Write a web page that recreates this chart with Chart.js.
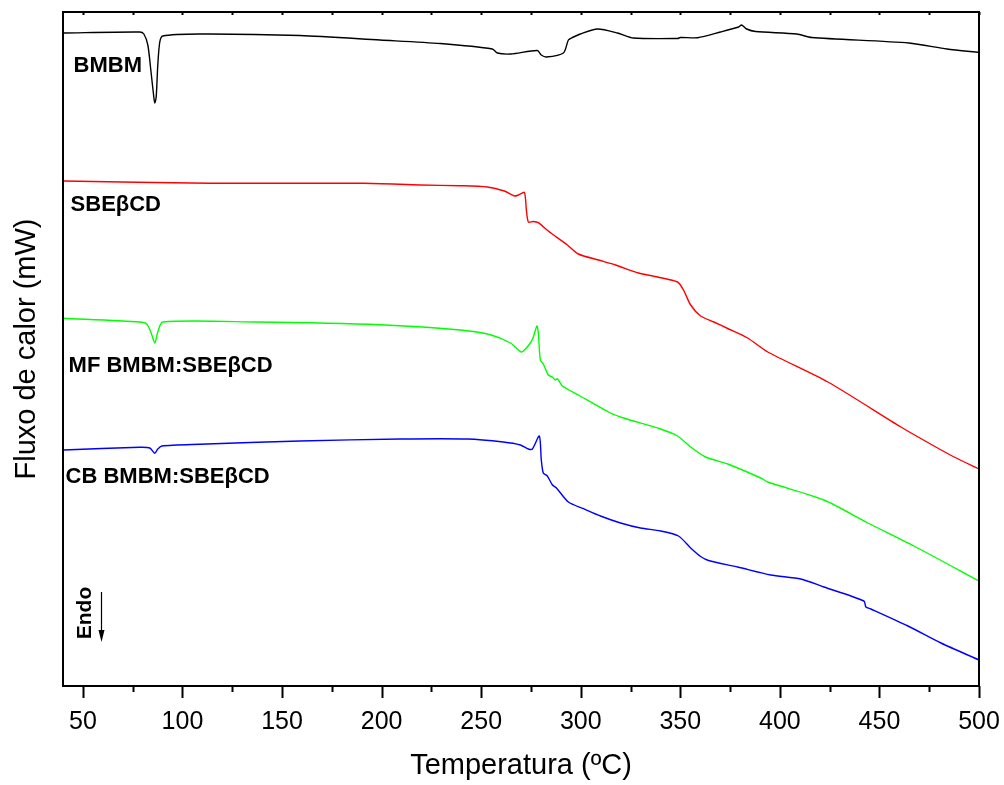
<!DOCTYPE html>
<html>
<head>
<meta charset="utf-8">
<script src="https://cdn.jsdelivr.net/npm/chart.js@4/dist/chart.umd.min.js"></script>
<style>
  html, body { margin: 0; padding: 0; background: #fff; }
  #wrap { width: 1004px; height: 785px; }
</style>
</head>
<body>
<div id="wrap"><canvas id="dscChart" width="1004" height="785"></canvas></div>
<script>
// DSC curves: temperature (ºC) and heat flow (mW, arbitrary offset per curve)
const seriesNames = ["BMBM", "SBE\u03B2CD", "MF BMBM:SBE\u03B2CD", "CB BMBM:SBE\u03B2CD"];
const seriesColors = ["#000000", "#ff0000", "#00ff00", "#0000ff"];

const tempBMBM = [40.3, 78.5, 80.6, 82.6, 84.1, 85.6, 86.1, 86.8, 87.6, 88.6, 90.1, 108.7, 159, 199.2, 229.4, 255.6, 258.1, 264.9, 278.2, 280.2, 282.7, 291.3, 293.8, 295.8, 299.8, 308.4, 318.5, 326.5, 348.6, 350.1, 358.7, 370.2, 379.3, 380.8, 383.3, 387.8, 408.5, 416, 464.8, 483.9, 500];
const fluxBMBM = [65.3, 65.4, 65.2, 64.1, 61.6, 58.9, 58.3, 58.9, 62.1, 64.4, 65.0, 65.2, 65.05, 64.6, 64.25, 63.7, 63.3, 63.2, 63.55, 63.1, 62.9, 63.3, 64.6, 64.85, 65.2, 65.7, 65.3, 64.8, 64.75, 64.85, 64.83, 65.4, 65.9, 66.1, 65.7, 65.45, 65.2, 64.85, 64.3, 63.7, 63.35];

const tempSBE = [40.3, 113.7, 190.7, 219.4, 239.5, 253.1, 261.6, 266.7, 268.7, 271.7, 272.7, 273.7, 276.2, 278.7, 283.7, 293.3, 298.8, 308.9, 317.5, 329.0, 338.6, 348.6, 351.6, 355.2, 360.2, 366.8, 373.8, 383.8, 393.9, 424.1, 460.8, 477.4, 487.5, 500];
const fluxSBE = [50.5, 50.27, 50.27, 50.1, 50.03, 49.9, 49.5, 49.0, 49.1, 49.35, 47.6, 46.4, 46.45, 46.33, 45.5, 44.1, 43.2, 42.6, 42.1, 41.3, 40.9, 40.4, 39.6, 38.1, 37.0, 36.4, 35.75, 34.8, 33.4, 30.4, 25.9, 24.0, 22.9, 21.7];

const tempMF = [40.3, 78.5, 82.0, 84.1, 86.1, 87.6, 90.1, 136.4, 199.2, 239.5, 254.6, 264.7, 270.2, 272.2, 274.7, 276.2, 278.0, 278.7, 279.7, 281.2, 283.7, 285.7, 287.3, 288.3, 290.8, 298.8, 314.9, 321.5, 340.1, 348.6, 355.2, 362.7, 373.8, 390.4, 393.9, 422.1, 444.2, 467.3, 500];
const fluxMF = [36.77, 36.4, 36.2, 35.4, 34.3, 35.4, 36.4, 36.4, 36.13, 35.6, 35.13, 34.3, 33.4, 33.7, 34.3, 34.9, 36.0, 35.3, 32.6, 32.2, 31.1, 30.9, 30.6, 30.73, 30.0, 29.1, 27.3, 26.8, 25.7, 25.0, 23.9, 22.9, 22.2, 20.8, 20.4, 18.6, 16.3, 14.0, 10.5];

const tempCB = [40.3, 78.5, 83.6, 86.1, 87.6, 89.6, 108.7, 159.0, 209.3, 243.0, 261.1, 269.7, 273.7, 275.7, 279.2, 280.2, 281.2, 283.2, 285.8, 287.8, 293.8, 301.4, 309.9, 320.0, 330.0, 340.1, 349.1, 355.2, 360.2, 364.2, 378.8, 395.4, 410.5, 422.1, 442.2, 443.2, 445.7, 464.3, 480.9, 500];
const fluxCB = [23.6, 23.87, 23.8, 23.27, 23.7, 24.0, 24.17, 24.5, 24.7, 24.7, 24.4, 24.1, 23.7, 23.7, 25.0, 22.6, 21.3, 21.0, 20.1, 19.8, 18.4, 17.73, 17.0, 16.3, 15.8, 15.5, 15.0, 13.8, 12.95, 12.55, 11.9, 11.1, 10.7, 9.9, 8.5, 7.9, 7.7, 6.0, 4.3, 2.6];

// where each curve name sits (temperature, heat flow)
const labelTemps = [45.3, 43.8, 42.8, 41.3];
const labelFlux = [62.0, 48.1, 32.0, 20.9];

const temps = [tempBMBM, tempSBE, tempMF, tempCB];
const fluxes = [fluxBMBM, fluxSBE, fluxMF, fluxCB];

const FONT = "Arial, 'Liberation Sans', sans-serif";

const datasets = seriesNames.map((name, i) => ({
  label: name,
  data: temps[i].map((t, j) => ({ x: t, y: fluxes[i][j] })),
  borderColor: seriesColors[i],
  borderWidth: 1.4,
  pointRadius: 0,
  tension: 0.25,
  fill: false,
}));

// frame, ticks, curve names and the "Endo" marker
const decorations = {
  id: "decorations",
  afterDraw(chart) {
    const { ctx, chartArea: a, scales } = chart;
    const xs = scales.x, ys = scales.y;
    ctx.save();
    ctx.strokeStyle = "#000";
    ctx.lineWidth = 2;
    ctx.strokeRect(a.left, a.top, a.right - a.left, a.bottom - a.top);

    for (let t = 50; t <= 500; t += 25) {
      const px = Math.round(xs.getPixelForValue(t)) + 0.5;
      const major = t % 50 === 0;
      ctx.beginPath();
      ctx.moveTo(px, a.bottom);
      ctx.lineTo(px, a.bottom + (major ? 12 : 6));
      ctx.moveTo(px, a.top);
      ctx.lineTo(px, a.top + 3);
      ctx.stroke();
    }

    ctx.fillStyle = "#000";
    ctx.font = "bold 22px " + FONT;
    ctx.textAlign = "left";
    ctx.textBaseline = "middle";
    seriesNames.forEach((name, i) => {
      ctx.fillText(name, xs.getPixelForValue(labelTemps[i]), ys.getPixelForValue(labelFlux[i]));
    });

    // Endo, pointing down
    ctx.save();
    ctx.translate(xs.getPixelForValue(50.9), ys.getPixelForValue(7.3));
    ctx.rotate(-Math.PI / 2);
    ctx.textAlign = "center";
    ctx.font = "bold 21px " + FONT;
    ctx.fillText("Endo", 0, 0);
    ctx.restore();

    const ax = Math.round(xs.getPixelForValue(59.3)) + 0.5;
    const y0 = ys.getPixelForValue(9.4), y1 = ys.getPixelForValue(4.4);
    ctx.lineWidth = 1.2;
    ctx.beginPath();
    ctx.moveTo(ax, y0);
    ctx.lineTo(ax, y1 - 10);
    ctx.stroke();
    ctx.beginPath();
    ctx.moveTo(ax - 3, y1 - 12);
    ctx.lineTo(ax + 3, y1 - 12);
    ctx.lineTo(ax, y1);
    ctx.closePath();
    ctx.fill();
    ctx.restore();
  },
};

new Chart(document.getElementById("dscChart"), {
  type: "line",
  data: { datasets },
  options: {
    responsive: false,
    animation: false,
    layout: { padding: { top: 12, right: 25, left: 0, bottom: 0 } },
    plugins: { legend: { display: false }, tooltip: { enabled: false } },
    scales: {
      x: {
        type: "linear",
        min: 40,
        max: 500,
        grid: { display: false },
        border: { display: false },
        ticks: {
          stepSize: 50,
          includeBounds: false,
          padding: 13,
          color: "#000",
          font: { family: FONT, size: 25 },
        },
        title: {
          display: true,
          text: "Temperatura (\u00BAC)",
          color: "#000",
          font: { family: FONT, size: 29 },
          padding: { top: 0, bottom: 2 },
        },
        afterFit(scale) {
          scale.height = 99;
          scale.paddingLeft = 0;
          scale.paddingRight = 0;
        },
      },
      y: {
        min: 0,
        max: 67.4,
        grid: { display: false },
        border: { display: false },
        ticks: { display: false },
        title: {
          display: true,
          text: "Fluxo de calor (mW)",
          color: "#000",
          font: { family: FONT, size: 29 },
          padding: { top: 10, bottom: 0 },
        },
        afterFit(scale) { scale.width = 63; },
      },
    },
  },
  plugins: [decorations],
});
</script>
</body>
</html>
